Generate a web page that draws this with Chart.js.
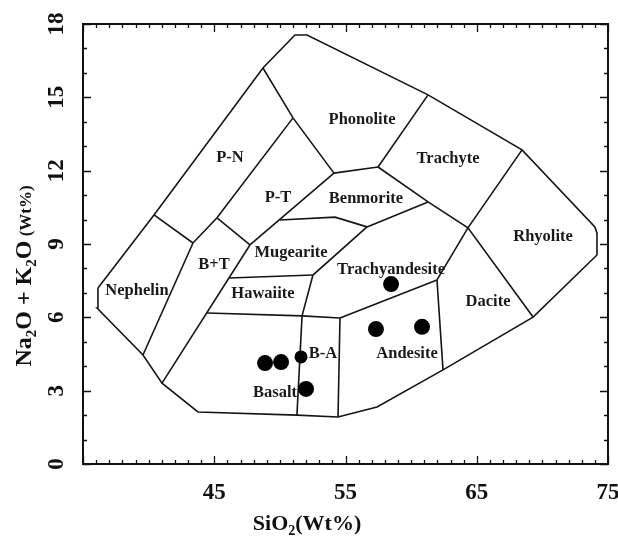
<!DOCTYPE html>
<html><head><meta charset="utf-8">
<script src="https://cdn.jsdelivr.net/npm/chart.js@4.4.0/dist/chart.umd.min.js"></script>
<style>html,body{margin:0;padding:0;background:#fff;} canvas{display:block;}</style>
</head><body>
<canvas id="c" width="618" height="539"></canvas>
<script>
// ---- sample data (SiO2 wt%, Na2O+K2O wt%) ----
const sampleSiO2   = [48.87, 50.09, 51.61, 51.99, 58.47, 57.32, 60.83];
const sampleAlkali = [4.13, 4.17, 4.38, 3.07, 7.36, 5.52, 5.61];

// ---- tick labels ----
const xTickLabels = [45, 55, 65, 75];
const yTickLabels = [0, 3, 6, 9, 12, 15, 18];

// ---- field names and their anchor (data units) ----
const fieldNames   = ['Phonolite','Trachyte','Benmorite','Rhyolite','P-N','P-T','Mugearite','B+T','Trachyandesite','Nephelin','Hawaiite','Dacite','B-A','Andesite','Basalt'];
const fieldSiO2    = [56.26, 62.81, 56.56, 70.05, 46.2, 49.86, 50.85, 44.98, 58.47, 39.11, 48.71, 65.86, 53.29, 59.69, 49.63];
const fieldAlkali  = [14.08, 12.48, 10.84, 9.29, 12.52, 10.88, 8.63, 8.14, 7.94, 7.08, 6.96, 6.63, 4.5, 4.5, 2.9];

// ---- field boundaries (SiO2, alkali) ----
const outerBoundary = [[36.14,7.2],[40.41,10.19],[48.71,16.2],[51.15,17.55],[52.07,17.55],[61.29,15.1],[68.45,12.85],[74.0,9.7],[74.16,9.45],[74.16,8.55],[69.29,6.01],[62.43,3.85],[57.4,2.33],[54.43,1.92],[51.3,2.0],[43.76,2.13],[41.02,3.31],[39.57,4.46],[36.07,6.38],[36.14,7.2]];
const pnPhonolite   = [[48.71,16.2],[51.0,14.16],[54.12,11.9]];
const pnPt          = [[51.0,14.16],[45.21,10.07],[43.38,9.04]];
const pnBottom      = [[40.41,10.19],[43.38,9.04]];
const nephelinBT    = [[43.38,9.04],[39.57,4.46]];
const ptBT          = [[45.21,10.07],[47.72,8.96]];
const ptBenmorite   = [[54.12,11.9],[47.72,8.96]];
const btRight       = [[47.72,8.96],[41.02,3.31]];
const mugeariteTop  = [[50.01,9.98],[54.2,10.1],[56.64,9.7]];
const benmoriteTop  = [[54.12,11.9],[57.48,12.15]];
const phonoTrachyte = [[61.29,15.1],[57.48,12.15]];
const trachyteBase  = [[57.48,12.15],[61.29,10.72],[64.33,9.66],[69.29,6.01]];
const benmoriteBase = [[61.29,10.72],[56.64,9.7]];
const mugeariteEdge = [[56.64,9.7],[52.52,7.73],[51.69,6.06]];
const hawaiiteTop   = [[46.12,7.61],[52.52,7.73]];
const basaltTop     = [[44.45,6.18],[51.69,6.06],[54.58,5.97]];
const andesiteTop   = [[54.58,5.97],[61.97,7.53]];
const rhyoliteEdge  = [[68.45,12.85],[64.33,9.66],[61.97,7.53]];
const andesiteDacite= [[61.97,7.53],[62.43,3.85]];
const basaltBA      = [[51.69,6.06],[51.3,2.0]];
const baAndesite    = [[54.58,5.97],[54.43,1.92]];

const boundaries = [outerBoundary,pnPhonolite,pnPt,pnBottom,nephelinBT,ptBT,ptBenmorite,btRight,mugeariteTop,benmoriteTop,phonoTrachyte,trachyteBase,benmoriteBase,mugeariteEdge,hawaiiteTop,basaltTop,andesiteTop,rhyoliteEdge,andesiteDacite,basaltBA,baAndesite];

const SERIF = '"Liberation Serif", "DejaVu Serif", serif';

const datasets = [{
  label: 'Samples',
  data: sampleSiO2.map((x, i) => ({x, y: sampleAlkali[i]})),
  pointRadius: [8, 8, 6.5, 8, 8, 8, 8],
  pointBackgroundColor: '#000',
  pointBorderColor: '#000',
  pointBorderWidth: 0,
  showLine: false
}];
boundaries.forEach((b, i) => datasets.push({
  label: 'boundary' + i,
  data: b.map(p => ({x: p[0], y: p[1]})),
  showLine: true,
  pointRadius: 0,
  borderColor: '#151515',
  borderWidth: 1.6,
  fill: false,
  tension: 0
}));

function drawTextRuns(ctx, runs, cx, cy) {
  let total = 0;
  runs.forEach(r => { ctx.font = r.font; total += ctx.measureText(r.t).width; });
  let x = cx - total / 2;
  ctx.textAlign = 'left';
  ctx.textBaseline = 'alphabetic';
  runs.forEach(r => { ctx.font = r.font; ctx.fillText(r.t, x, cy + (r.dy || 0)); x += ctx.measureText(r.t).width; });
}

const decor = {
  id: 'decor',
  beforeDatasetsDraw(chart) {
    const {ctx, scales: {x, y}} = chart;
    ctx.save();
    ctx.fillStyle = '#1a1a1a';
    ctx.font = 'bold 16.5px ' + SERIF;
    ctx.textAlign = 'center';
    ctx.textBaseline = 'middle';
    fieldNames.forEach((n, i) => ctx.fillText(n, x.getPixelForValue(fieldSiO2[i]), y.getPixelForValue(fieldAlkali[i])));
    ctx.restore();
  },
  afterDraw(chart) {
    const {ctx, chartArea: a, scales: {x, y}} = chart;
    ctx.save();
    ctx.strokeStyle = '#111';
    ctx.fillStyle = '#111';
    // frame
    ctx.lineWidth = 2;
    ctx.strokeRect(a.left, a.top, a.right - a.left, a.bottom - a.top);
    // ticks
    ctx.lineWidth = 1.3;
    ctx.beginPath();
    x.ticks.forEach(t => {
      const v = t.value, px = Math.round(x.getPixelForValue(v)) + 0.5;
      const len = (Math.round(v) % 10 === 5) ? 8 : 4;
      ctx.moveTo(px, a.bottom); ctx.lineTo(px, a.bottom - len);
      ctx.moveTo(px, a.top); ctx.lineTo(px, a.top + len);
    });
    y.ticks.forEach(t => {
      const v = t.value, py = Math.round(y.getPixelForValue(v)) + 0.5;
      const len = (Math.round(v) % 3 === 0) ? 8 : 4;
      ctx.moveTo(a.left, py); ctx.lineTo(a.left + len, py);
      ctx.moveTo(a.right, py); ctx.lineTo(a.right - len, py);
    });
    ctx.stroke();
    // x tick labels
    ctx.font = 'bold 23px ' + SERIF;
    ctx.textAlign = 'center';
    ctx.textBaseline = 'middle';
    xTickLabels.forEach(v => ctx.fillText(String(v), x.getPixelForValue(v), a.bottom + 29));
    // y tick labels (rotated)
    yTickLabels.forEach(v => {
      ctx.save();
      ctx.translate(a.left - 26, y.getPixelForValue(v));
      ctx.rotate(-Math.PI / 2);
      ctx.textAlign = 'center';
      ctx.textBaseline = 'middle';
      ctx.fillText(String(v), 0, 0);
      ctx.restore();
    });
    // x title
    const big = 'bold 22px ' + SERIF, sub = 'bold 14px ' + SERIF;
    drawTextRuns(ctx, [{t: 'SiO', font: big}, {t: '2', font: sub, dy: 5}, {t: '(Wt%)', font: big}], 307, 530);
    // y title
    const ybig = 'bold 24px ' + SERIF, ysub = 'bold 15px ' + SERIF, ysmall = 'bold 17px ' + SERIF;
    ctx.save();
    ctx.translate(23, 276);
    ctx.rotate(-Math.PI / 2);
    drawTextRuns(ctx, [{t: 'Na', font: ybig}, {t: '2', font: ysub, dy: 5}, {t: 'O + K', font: ybig}, {t: '2', font: ysub, dy: 5}, {t: 'O', font: ybig}, {t: ' (Wt%)', font: ysmall}], 0, 8);
    ctx.restore();
    ctx.restore();
  }
};

new Chart(document.getElementById('c'), {
  type: 'scatter',
  data: {datasets},
  options: {
    responsive: false,
    animation: false,
    layout: {padding: {left: 83, right: 10, top: 24, bottom: 75}},
    plugins: {legend: {display: false}, tooltip: {enabled: false}},
    scales: {
      x: {type: 'linear', min: 35, max: 75,
          ticks: {display: false, stepSize: 1, autoSkip: false},
          grid: {display: false, drawTicks: false}, border: {display: false}},
      y: {type: 'linear', min: 0, max: 18,
          ticks: {display: false, stepSize: 1, autoSkip: false},
          grid: {display: false, drawTicks: false}, border: {display: false}}
    }
  },
  plugins: [decor]
});
</script>
</body></html>
